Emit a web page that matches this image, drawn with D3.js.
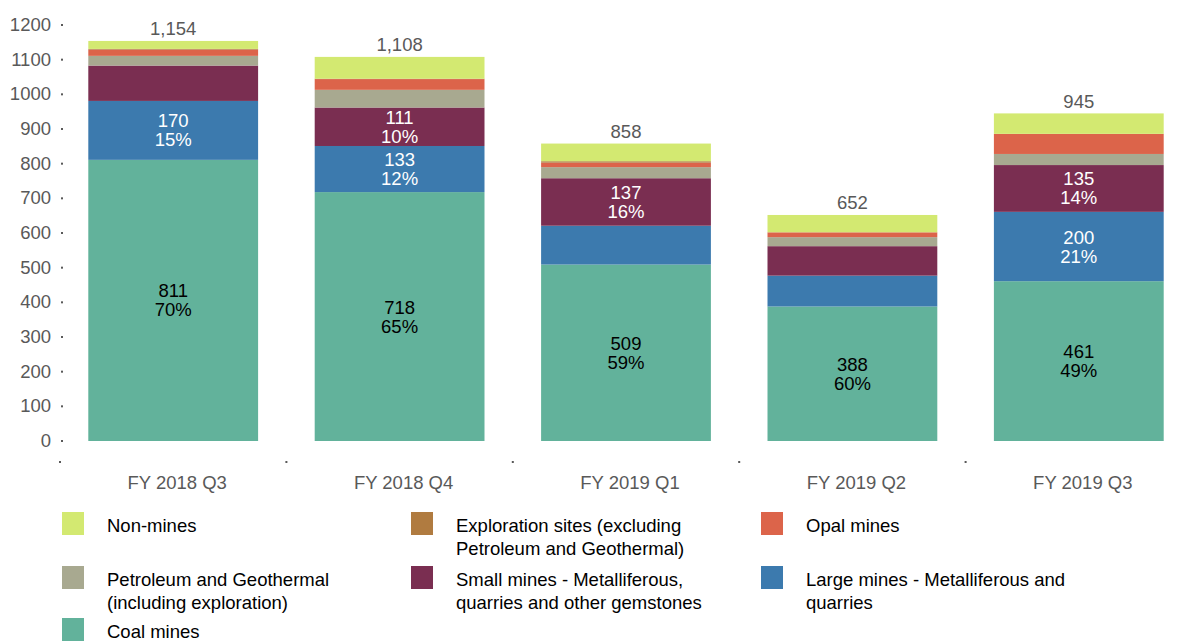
<!DOCTYPE html>
<html>
<head>
<meta charset="utf-8">
<script src="https://cdn.jsdelivr.net/npm/d3@7"></script>
<style>
  body { margin: 0; background: #fff; }
  text { font-family: "Liberation Sans", Arial, sans-serif; }
</style>
</head>
<body>
<script>
// data
var quarters = ["FY 2018 Q3", "FY 2018 Q4", "FY 2019 Q1", "FY 2019 Q2", "FY 2019 Q3"];
var coal        = [811, 718, 509, 388, 461];
var large       = [170, 133, 112, 89, 200];
var small       = [102, 111, 137, 85, 135];
var petroleum   = [28, 51, 32, 26, 32];
var opal        = [18, 31, 13, 14, 58];
var exploration = [2, 1, 4, 0, 0];
var nonMines    = [23, 63, 51, 50, 59];
var totals      = [1154, 1108, 858, 652, 945];
var yTicks      = [0, 100, 200, 300, 400, 500, 600, 700, 800, 900, 1000, 1100, 1200];

// which segments carry a value/percent label
var shownCoal  = [1, 1, 1, 1, 1];
var shownLarge = [1, 1, 0, 0, 1];
var shownSmall = [0, 1, 1, 0, 1];

var series = [
  {key: "coal", values: coal, color: "#62b29b", label: ["Coal mines"], shown: shownCoal, ink: "#000"},
  {key: "large", values: large, color: "#3c7aae", label: ["Large mines - Metalliferous and", "quarries"], shown: shownLarge, ink: "#fff"},
  {key: "small", values: small, color: "#7a2e51", label: ["Small mines - Metalliferous,", "quarries and other gemstones"], shown: shownSmall, ink: "#fff"},
  {key: "petroleum", values: petroleum, color: "#a8a990", label: ["Petroleum and Geothermal", "(including exploration)"]},
  {key: "opal", values: opal, color: "#dc644a", label: ["Opal mines"]},
  {key: "exploration", values: exploration, color: "#b07b40", label: ["Exploration sites (excluding", "Petroleum and Geothermal)"]},
  {key: "nonMines", values: nonMines, color: "#d3e971", label: ["Non-mines"]}
];
var legendOrder = ["nonMines", "exploration", "opal", "petroleum", "small", "large", "coal"];

var width = 1182, height = 643;
var fs = 18.5;

var svg = d3.select("body").append("svg")
  .attr("width", width)
  .attr("height", height);

var x = d3.scaleBand().domain(quarters).range([60, 1192])
  .paddingInner(0.25).paddingOuter(0.125);
var y = d3.scaleLinear().domain([0, 1200]).range([441, 25]);

var rows = quarters.map(function(q, i) {
  var r = {quarter: q};
  series.forEach(function(s) { r[s.key] = s.values[i]; });
  return r;
});
var stacked = d3.stack().keys(series.map(function(s) { return s.key; }))(rows);

// bars
svg.append("g").selectAll("g")
  .data(stacked)
  .enter().append("g")
    .attr("fill", function(d, i) { return series[i].color; })
  .selectAll("rect")
  .data(function(d) { return d; })
  .enter().append("rect")
    .attr("x", function(d) { return x(d.data.quarter); })
    .attr("width", x.bandwidth())
    .attr("y", function(d) { return y(d[1]); })
    .attr("height", function(d) { return y(d[0]) - y(d[1]); });

// value + percent labels (two separate lines)
stacked.forEach(function(layer, si) {
  var s = series[si];
  if (!s.shown) return;
  layer.forEach(function(d, i) {
    if (!s.shown[i]) return;
    var mid = (y(d[0]) + y(d[1])) / 2;
    var cx = x(quarters[i]) + x.bandwidth() / 2;
    svg.append("text")
      .attr("x", cx)
      .attr("y", mid - 3)
      .attr("text-anchor", "middle")
      .attr("font-size", fs)
      .attr("fill", s.ink)
      .text(s.values[i]);
    svg.append("text")
      .attr("x", cx)
      .attr("y", mid + 16)
      .attr("text-anchor", "middle")
      .attr("font-size", fs)
      .attr("fill", s.ink)
      .text(Math.round(s.values[i] / totals[i] * 100) + "%");
  });
});

// totals above bars
svg.append("g").selectAll("text")
  .data(quarters)
  .enter().append("text")
    .attr("x", function(d) { return x(d) + x.bandwidth() / 2; })
    .attr("y", function(d, i) { return y(totals[i]) - 5.5; })
    .attr("text-anchor", "middle")
    .attr("font-size", fs)
    .attr("fill", "#595959")
    .text(function(d, i) { return d3.format(",")(totals[i]); });

// y axis: labels and dot ticks
var yAxis = svg.append("g");
yAxis.selectAll("text")
  .data(yTicks)
  .enter().append("text")
    .attr("x", 51)
    .attr("y", function(d) { return y(d) + 6; })
    .attr("text-anchor", "end")
    .attr("font-size", fs)
    .attr("fill", "#595959")
    .text(function(d) { return d; });
yAxis.selectAll("rect")
  .data(yTicks)
  .enter().append("rect")
    .attr("x", 61)
    .attr("y", function(d) { return y(d) - 1; })
    .attr("width", 2)
    .attr("height", 2)
    .attr("fill", "#595959");

// x axis: dot ticks between categories and labels
var xAxis = svg.append("g");
xAxis.selectAll("rect")
  .data(quarters)
  .enter().append("rect")
    .attr("x", function(d) { return x(d) - x.step() * 0.125 - 1; })
    .attr("y", 461)
    .attr("width", 2)
    .attr("height", 2)
    .attr("fill", "#595959");
xAxis.selectAll("text")
  .data(quarters)
  .enter().append("text")
    .attr("x", function(d) { return x(d) + x.bandwidth() / 2 + 4; })
    .attr("y", 489)
    .attr("text-anchor", "middle")
    .attr("font-size", fs)
    .attr("fill", "#595959")
    .text(function(d) { return d; });

// legend
var legendCols = [62, 411, 761];
var legendRows = [512, 566, 618];
var legend = svg.append("g").selectAll("g")
  .data(legendOrder)
  .enter().append("g")
    .attr("transform", function(d, i) {
      return "translate(" + legendCols[i % 3] + "," + legendRows[Math.floor(i / 3)] + ")";
    });
legend.append("rect")
  .attr("width", 22)
  .attr("height", 23)
  .attr("fill", function(k) { return series.find(function(s) { return s.key === k; }).color; });
legend.append("text")
  .attr("font-size", fs)
  .attr("fill", "#000")
  .each(function(k) {
    var s = series.find(function(s) { return s.key === k; });
    var t = d3.select(this);
    s.label.forEach(function(line, j) {
      t.append("tspan").attr("x", 45).attr("y", 20 + j * 23).text(line);
    });
  });
</script>
</body>
</html>
